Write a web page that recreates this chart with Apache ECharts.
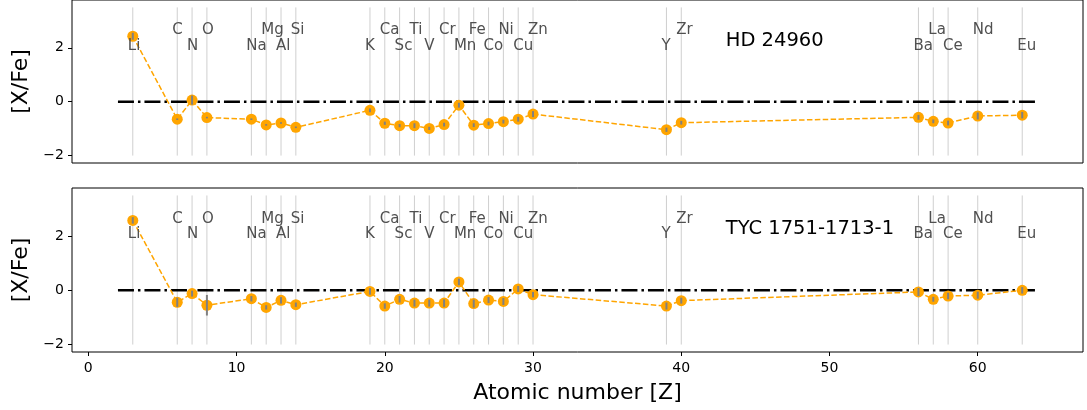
<!DOCTYPE html>
<html><head><meta charset="utf-8">
<script src="https://cdn.jsdelivr.net/npm/echarts@6/dist/echarts.min.js"></script>
<style>html,body{margin:0;padding:0;background:#fff}#c{width:1087px;height:410px}</style>
</head><body><div id="c"></div>
<script>
const elements = ['Li','C','N','O','Na','Mg','Al','Si','K','Ca','Sc','Ti','V','Cr','Mn','Fe','Co','Ni','Cu','Zn','Y','Zr','Ba','La','Ce','Nd','Eu'];
const atomicNumbers = [3,6,7,8,11,12,13,14,19,20,21,22,23,24,25,26,27,28,29,30,39,40,56,57,58,60,63];
const starNames = ['HD 24960','TYC 1751-1713-1'];
const abundHD = [2.43,-0.65,0.06,-0.59,-0.65,-0.86,-0.79,-0.95,-0.32,-0.80,-0.89,-0.89,-0.99,-0.85,-0.13,-0.87,-0.81,-0.74,-0.65,-0.46,-1.04,-0.78,-0.58,-0.73,-0.79,-0.53,-0.50];
const errHD   = [0.13,0.03,0.17,0.03,0.03,0.03,0.03,0.03,0.07,0.06,0.06,0.09,0.06,0.07,0.09,0.07,0.07,0.07,0.09,0.11,0.08,0.07,0.09,0.07,0.09,0.13,0.12];
const abundTYC = [2.58,-0.44,-0.12,-0.55,-0.31,-0.63,-0.37,-0.53,-0.04,-0.58,-0.33,-0.47,-0.47,-0.47,0.31,-0.49,-0.36,-0.41,0.05,-0.16,-0.58,-0.38,-0.06,-0.33,-0.21,-0.18,0.00];
const errTYC   = [0.12,0.17,0.11,0.38,0.10,0.08,0.12,0.08,0.12,0.10,0.12,0.13,0.13,0.14,0.12,0.15,0.11,0.13,0.11,0.10,0.13,0.11,0.15,0.09,0.12,0.13,0.12];
const yTicks = [-2,0,2];
const xTicks = [0,10,20,30,40,50,60];
const solarLine = [[2,0],[64,0]];
const vlineRange = [-2,3.5];
const labelLevels = [2.08, 2.64];
const titlePos = [43, 2.25];

const FONT = 'DejaVu Sans';
const chart = echarts.init(document.getElementById('c'), null, {renderer:'canvas'});
const fmtMinus = v => String(v).replace('-', '\u2212');

function panelSeries(i, abund, err){
  const pts = atomicNumbers.map((z,k)=>[z, abund[k]]);
  const errs = atomicNumbers.map((z,k)=>[z, abund[k]-err[k], abund[k]+err[k]]);
  const lbls = atomicNumbers.map((z,k)=>[z, labelLevels[k%2], elements[k]]);
  return [
    { type:'custom', xAxisIndex:i, yAxisIndex:i, silent:true, z:1,
      data: atomicNumbers.map(z=>[z, vlineRange[0], vlineRange[1]]),
      renderItem:(p,api)=>{ const a=api.coord([api.value(0),api.value(1)]), b=api.coord([api.value(0),api.value(2)]);
        return {type:'line', shape:{x1:a[0],y1:a[1],x2:b[0],y2:b[1]}, style:{stroke:'#cfcfcf', lineWidth:1}}; } },
    { type:'line', xAxisIndex:i, yAxisIndex:i, data:solarLine, symbol:'none', silent:true, z:2,
      lineStyle:{color:'#000', width:2.5, type:[16,4,2.5,4], cap:'butt'} },
    { type:'line', xAxisIndex:i, yAxisIndex:i, data:pts, symbol:'circle', symbolSize:11, z:3,
      itemStyle:{color:'#FFA500'}, lineStyle:{color:'#FFA500', width:1.5, type:[5.5,2.4]} },
    { type:'custom', xAxisIndex:i, yAxisIndex:i, silent:true, z:4, data:errs,
      renderItem:(p,api)=>{ const a=api.coord([api.value(0),api.value(1)]), b=api.coord([api.value(0),api.value(2)]);
        return {type:'line', shape:{x1:a[0],y1:a[1],x2:b[0],y2:b[1]}, style:{stroke:'#808080', lineWidth:2}}; } },
    { type:'custom', xAxisIndex:i, yAxisIndex:i, silent:true, z:5, data:lbls,
      renderItem:(p,api)=>{ const a=api.coord([api.value(0),api.value(1)]);
        return {type:'text', x:a[0]-5, y:a[1], style:{text:lbls[p.dataIndex][2], fill:'#505050', font:'15px "DejaVu Sans"', textAlign:'left', textVerticalAlign:'middle'}}; } },
    { type:'custom', xAxisIndex:i, yAxisIndex:i, silent:true, z:5, data:[titlePos],
      renderItem:(p,api)=>{ const a=api.coord([api.value(0),api.value(1)]);
        return {type:'text', x:a[0], y:a[1], style:{text:starNames[i], fill:'#000', font:'19.5px "DejaVu Sans"', textAlign:'left', textVerticalAlign:'middle'}}; } }
  ];
}

const mkX = (i) => ({ type:'value', gridIndex:i, min:-1.1, max:67.1,
  axisLine:{show:false, onZero:false}, splitLine:{show:false},
  axisTick:{show:i===1, customValues:xTicks, length:4, lineStyle:{color:'#000'}},
  axisLabel:{show:i===1, customValues:xTicks, color:'#000', fontFamily:FONT, fontSize:14, margin:9},
  name: i===1 ? 'Atomic number [Z]' : '', nameLocation:'middle', nameGap:30,
  nameTextStyle:{color:'#000', fontFamily:FONT, fontSize:22, verticalAlign:'top'} });
const mkY = (i) => ({ type:'value', gridIndex:i, min:-2.275, max:3.775,
  axisLine:{show:false, onZero:false}, splitLine:{show:false},
  axisTick:{show:true, customValues:yTicks, length:4, lineStyle:{color:'#000'}},
  axisLabel:{customValues:yTicks, color:'#000', fontFamily:FONT, fontSize:14, margin:8, formatter:fmtMinus},
  name:'[X/Fe]', nameLocation:'middle', nameGap:40, nameRotate:90,
  nameTextStyle:{color:'#000', fontFamily:FONT, fontSize:22} });

chart.setOption({
  animation:false,
  grid:[
    {left:72, top:0, width:1011, height:163, show:true, borderColor:'#000', borderWidth:1, backgroundColor:'transparent'},
    {left:72, top:188, width:1011, height:164, show:true, borderColor:'#000', borderWidth:1, backgroundColor:'transparent'}
  ],
  xAxis:[mkX(0), mkX(1)],
  yAxis:[mkY(0), mkY(1)],
  series:[...panelSeries(0, abundHD, errHD), ...panelSeries(1, abundTYC, errTYC)]
});
</script></body></html>
